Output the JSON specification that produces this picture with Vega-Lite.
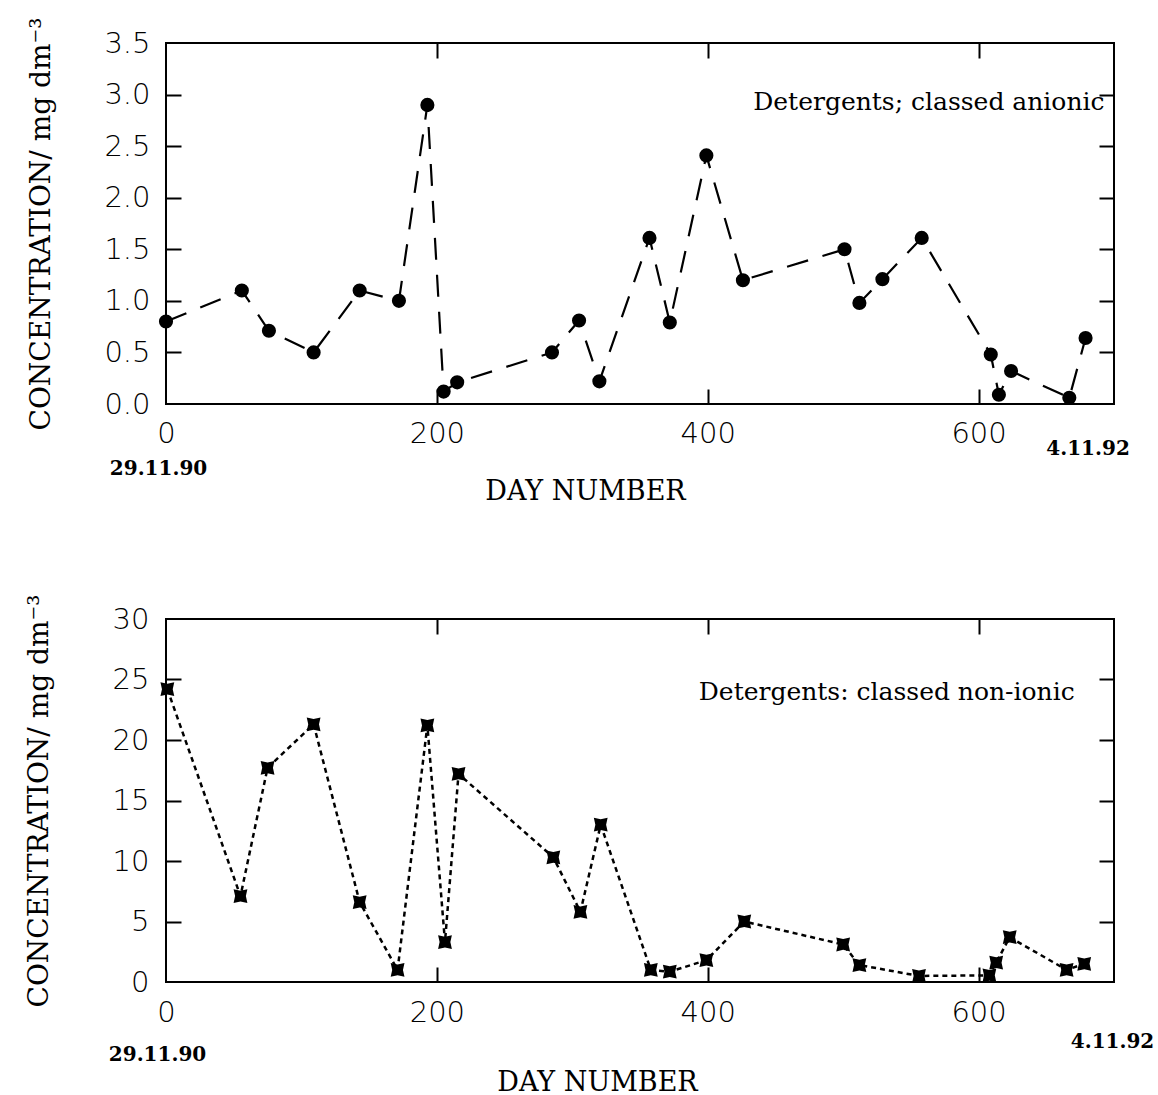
{
  "$schema": "https://vega.github.io/schema/vega-lite/v6.json",
  "autosize": {"type": "none"},
  "padding": {"left": 166, "top": 43, "right": 992, "bottom": 1052},
  "bounds": "flush",
  "spacing": 215,
  "background": "white",
  "datasets": {
    "anionic": [
      {"day": 0, "conc": 0.80}, {"day": 56, "conc": 1.10}, {"day": 76, "conc": 0.71},
      {"day": 109, "conc": 0.50}, {"day": 143, "conc": 1.10}, {"day": 172, "conc": 1.00},
      {"day": 193, "conc": 2.90}, {"day": 205, "conc": 0.12}, {"day": 215, "conc": 0.21},
      {"day": 285, "conc": 0.50}, {"day": 305, "conc": 0.81}, {"day": 320, "conc": 0.22},
      {"day": 357, "conc": 1.61}, {"day": 372, "conc": 0.79}, {"day": 399, "conc": 2.41},
      {"day": 426, "conc": 1.20}, {"day": 501, "conc": 1.50}, {"day": 512, "conc": 0.98},
      {"day": 529, "conc": 1.21}, {"day": 558, "conc": 1.61}, {"day": 609, "conc": 0.48},
      {"day": 615, "conc": 0.09}, {"day": 624, "conc": 0.32}, {"day": 667, "conc": 0.06},
      {"day": 679, "conc": 0.64}
    ],
    "nonionic": [
      {"day": 1, "conc": 24.2}, {"day": 55, "conc": 7.1}, {"day": 75, "conc": 17.7},
      {"day": 109, "conc": 21.3}, {"day": 143, "conc": 6.6}, {"day": 171, "conc": 1.0},
      {"day": 193, "conc": 21.2}, {"day": 206, "conc": 3.3}, {"day": 216, "conc": 17.2},
      {"day": 286, "conc": 10.3}, {"day": 306, "conc": 5.8}, {"day": 321, "conc": 13.0},
      {"day": 358, "conc": 1.0}, {"day": 372, "conc": 0.85}, {"day": 399, "conc": 1.8},
      {"day": 427, "conc": 5.0}, {"day": 500, "conc": 3.1}, {"day": 512, "conc": 1.4},
      {"day": 556, "conc": 0.5}, {"day": 608, "conc": 0.55}, {"day": 613, "conc": 1.6},
      {"day": 623, "conc": 3.7}, {"day": 665, "conc": 1.0}, {"day": 678, "conc": 1.5}
    ]
  },
  "config": {
    "view": {"stroke": "black", "strokeWidth": 2},
    "axis": {
      "grid": false, "domain": false, "labelFlush": false, "labelOverlap": false, "labelBound": false,
      "labelColor": "black", "titleColor": "black", "tickColor": "black",
      "labelFont": "DejaVu Sans", "labelFontSize": 29, "labelFontWeight": 200
    }
  },
  "vconcat": [
    {
      "width": 948,
      "height": 361,
      "data": {"name": "anionic"},
      "layer": [
        {
          "mark": {"type": "line", "stroke": "black", "strokeWidth": 2.2, "strokeDash": [22, 15]},
          "encoding": {
            "x": {"field": "day", "type": "quantitative", "scale": {"domain": [0, 700], "nice": false},
              "axis": {"orient": "bottom", "values": [0, 200, 400, 600], "ticks": false, "labelPadding": 29, "labelBaseline": "middle",
                "title": "DAY NUMBER", "titleFont": "DejaVu Serif", "titleFontSize": 27, "titleFontWeight": "normal",
                "titleX": 419, "titleY": 87, "titleBaseline": "middle", "titleAlign": "center"}},
            "y": {"field": "conc", "type": "quantitative", "scale": {"domain": [0, 3.5], "nice": false},
              "axis": {"orient": "left", "values": [0, 0.5, 1, 1.5, 2, 2.5, 3, 3.5], "format": ".1f", "ticks": false,
                "labelPadding": 16, "labelBaseline": "middle", "labelAlign": "right",
                "title": "CONCENTRATION/ mg dm⁻³", "titleFont": "DejaVu Serif", "titleFontSize": 28, "titleFontWeight": "normal",
                "titleAngle": -90, "titleX": -125, "titleY": 180.5, "titleAlign": "center", "titleBaseline": "middle"}}
          }
        },
        {
          "mark": {"type": "point", "shape": "circle", "filled": true, "size": 200, "color": "black", "opacity": 1},
          "encoding": {
            "x": {"field": "day", "type": "quantitative", "axis": null},
            "y": {"field": "conc", "type": "quantitative", "axis": null}
          }
        },
        {
          "mark": {"type": "point", "opacity": 0},
          "encoding": {
            "x": {"field": "day", "type": "quantitative",
              "axis": {"orient": "bottom", "values": [200, 400, 600], "labels": false, "ticks": true, "tickSize": -15, "tickWidth": 2, "title": null}},
            "y": {"field": "conc", "type": "quantitative",
              "axis": {"orient": "left", "values": [0.5, 1, 1.5, 2, 2.5, 3], "labels": false, "ticks": true, "tickSize": -15, "tickWidth": 2, "title": null}}
          }
        },
        {
          "mark": {"type": "point", "opacity": 0},
          "encoding": {
            "x": {"field": "day", "type": "quantitative",
              "axis": {"orient": "top", "values": [200, 400, 600], "labels": false, "ticks": true, "tickSize": -15, "tickWidth": 2, "title": null}},
            "y": {"field": "conc", "type": "quantitative",
              "axis": {"orient": "right", "values": [0.5, 1, 1.5, 2, 2.5, 3], "labels": false, "ticks": true, "tickSize": -15, "tickWidth": 2, "title": null}}
          }
        },
        {
          "mark": {"type": "point", "opacity": 0},
          "encoding": {
            "x": {"field": "day", "type": "quantitative",
              "axis": {"orient": "bottom", "values": [0], "labelExpr": "'29.11.90'", "ticks": false, "labelPadding": 64, "labelBaseline": "middle",
                "labelFont": "DejaVu Serif", "labelFontSize": 20, "labelFontWeight": "bold", "labelOffset": -8, "title": null}},
            "y": {"field": "conc", "type": "quantitative", "axis": null}
          }
        },
        {
          "mark": {"type": "point", "opacity": 0},
          "encoding": {
            "x": {"field": "day", "type": "quantitative",
              "axis": {"orient": "bottom", "values": [679], "labelExpr": "'4.11.92'", "ticks": false, "labelPadding": 44, "labelBaseline": "middle",
                "labelFont": "DejaVu Serif", "labelFontSize": 20, "labelFontWeight": "bold", "labelOffset": 2, "title": null}},
            "y": {"field": "conc", "type": "quantitative", "axis": null}
          }
        },
        {
          "data": {"values": [{"note": "Detergents; classed anionic"}]},
          "mark": {"type": "text", "align": "right", "baseline": "alphabetic", "font": "DejaVu Serif", "fontSize": 25, "color": "black"},
          "encoding": {
            "x": {"datum": 693, "type": "quantitative", "axis": null},
            "y": {"datum": 2.85, "type": "quantitative", "axis": null},
            "text": {"field": "note"}
          }
        }
      ],
      "resolve": {"axis": {"x": "independent", "y": "independent"}}
    },
    {
      "width": 948,
      "height": 363,
      "data": {"name": "nonionic"},
      "layer": [
        {
          "mark": {"type": "line", "stroke": "black", "strokeWidth": 2.5, "strokeDash": [5, 4]},
          "encoding": {
            "x": {"field": "day", "type": "quantitative", "scale": {"domain": [0, 700], "nice": false},
              "axis": {"orient": "bottom", "values": [0, 200, 400, 600], "ticks": false, "labelPadding": 30, "labelBaseline": "middle",
                "title": "DAY NUMBER", "titleFont": "DejaVu Serif", "titleFontSize": 27, "titleFontWeight": "normal",
                "titleX": 431, "titleY": 100, "titleBaseline": "middle", "titleAlign": "center"}},
            "y": {"field": "conc", "type": "quantitative", "scale": {"domain": [0, 30], "nice": false},
              "axis": {"orient": "left", "values": [0, 5, 10, 15, 20, 25, 30], "format": "d", "ticks": false,
                "labelPadding": 17, "labelBaseline": "middle", "labelAlign": "right",
                "title": "CONCENTRATION/ mg dm⁻³", "titleFont": "DejaVu Serif", "titleFontSize": 28, "titleFontWeight": "normal",
                "titleAngle": -90, "titleX": -127, "titleY": 181.5, "titleAlign": "center", "titleBaseline": "middle"}}
          }
        },
        {
          "mark": {"type": "point", "shape": "M-1,-1L0,-0.78L1,-1L0.78,0L1,1L0,0.78L-1,1L-0.78,0Z", "filled": true, "size": 190, "color": "black", "opacity": 1},
          "encoding": {
            "x": {"field": "day", "type": "quantitative", "axis": null},
            "y": {"field": "conc", "type": "quantitative", "axis": null}
          }
        },
        {
          "mark": {"type": "point", "opacity": 0},
          "encoding": {
            "x": {"field": "day", "type": "quantitative",
              "axis": {"orient": "bottom", "values": [200, 400, 600], "labels": false, "ticks": true, "tickSize": -15, "tickWidth": 2, "title": null}},
            "y": {"field": "conc", "type": "quantitative",
              "axis": {"orient": "left", "values": [5, 10, 15, 20, 25], "labels": false, "ticks": true, "tickSize": -15, "tickWidth": 2, "title": null}}
          }
        },
        {
          "mark": {"type": "point", "opacity": 0},
          "encoding": {
            "x": {"field": "day", "type": "quantitative",
              "axis": {"orient": "top", "values": [200, 400, 600], "labels": false, "ticks": true, "tickSize": -15, "tickWidth": 2, "title": null}},
            "y": {"field": "conc", "type": "quantitative",
              "axis": {"orient": "right", "values": [5, 10, 15, 20, 25], "labels": false, "ticks": true, "tickSize": -15, "tickWidth": 2, "title": null}}
          }
        },
        {
          "mark": {"type": "point", "opacity": 0},
          "encoding": {
            "x": {"field": "day", "type": "quantitative",
              "axis": {"orient": "bottom", "values": [0], "labelExpr": "'29.11.90'", "ticks": false, "labelPadding": 72, "labelBaseline": "middle",
                "labelFont": "DejaVu Serif", "labelFontSize": 20, "labelFontWeight": "bold", "labelOffset": -9, "title": null}},
            "y": {"field": "conc", "type": "quantitative", "axis": null}
          }
        },
        {
          "mark": {"type": "point", "opacity": 0},
          "encoding": {
            "x": {"field": "day", "type": "quantitative",
              "axis": {"orient": "bottom", "values": [700], "labelExpr": "'4.11.92'", "ticks": false, "labelPadding": 59, "labelBaseline": "middle",
                "labelFont": "DejaVu Serif", "labelFontSize": 20, "labelFontWeight": "bold", "labelOffset": -2, "title": null}},
            "y": {"field": "conc", "type": "quantitative", "axis": null}
          }
        },
        {
          "data": {"values": [{"note": "Detergents: classed non-ionic"}]},
          "mark": {"type": "text", "align": "right", "baseline": "alphabetic", "font": "DejaVu Serif", "fontSize": 25, "color": "black"},
          "encoding": {
            "x": {"datum": 671, "type": "quantitative", "axis": null},
            "y": {"datum": 23.3, "type": "quantitative", "axis": null},
            "text": {"field": "note"}
          }
        }
      ],
      "resolve": {"axis": {"x": "independent", "y": "independent"}}
    }
  ]
}
